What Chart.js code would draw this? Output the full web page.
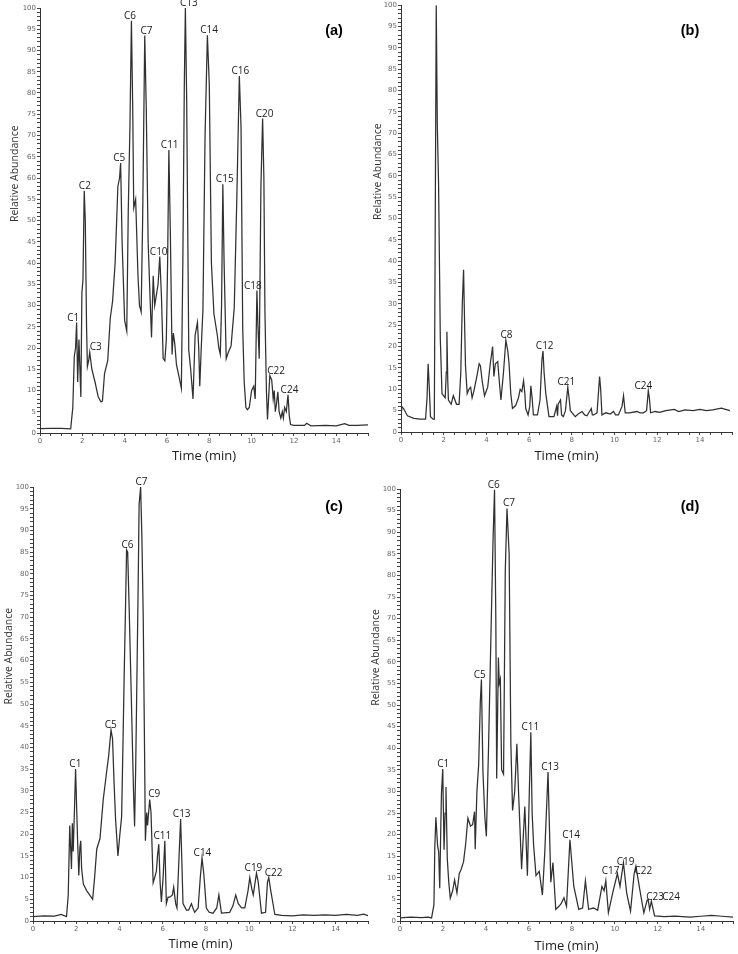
<!DOCTYPE html>
<html><head><meta charset="utf-8">
<script src="https://cdn.jsdelivr.net/npm/chart.js@4.4.0/dist/chart.umd.min.js"></script>
<style>
html,body{margin:0;padding:0;background:#fff;}
body{width:738px;height:954px;position:relative;overflow:hidden;}
canvas{position:absolute;}
</style></head><body>
<canvas id="pa" width="361" height="470" style="left:8px;top:0px"></canvas>
<canvas id="pb" width="366" height="470" style="left:369px;top:0px"></canvas>
<canvas id="pc" width="368" height="479" style="left:1px;top:475px"></canvas>
<canvas id="pd" width="370" height="479" style="left:368px;top:475px"></canvas>
<script>
// ---------- Panel (a) ----------
const timeA = [0, 0.5, 1.0, 1.45, 1.55, 1.62, 1.68, 1.73, 1.78, 1.84,
  1.93, 1.98, 2.03, 2.09, 2.14, 2.20, 2.24, 2.30, 2.35, 2.45,
  2.60, 2.75, 2.88, 2.95, 3.05, 3.20, 3.32, 3.43, 3.55, 3.68,
  3.76, 3.81, 3.88, 4.00, 4.10, 4.17, 4.25, 4.32, 4.38, 4.43,
  4.52, 4.63, 4.70, 4.78, 4.85, 4.95, 5.02, 5.11, 5.20, 5.27,
  5.35, 5.42, 5.50, 5.58, 5.66, 5.74, 5.82, 5.90, 5.97, 6.03,
  6.09, 6.16, 6.24, 6.30, 6.37, 6.45, 6.56, 6.68, 6.75, 6.82,
  6.87, 6.93, 7.03, 7.12, 7.23, 7.33, 7.44, 7.50, 7.55, 7.62,
  7.70, 7.80, 7.91, 8.00, 8.10, 8.22, 8.38, 8.45, 8.52, 8.58,
  8.64, 8.70, 8.80, 8.90, 9.03, 9.18, 9.30, 9.42, 9.50, 9.58,
  9.65, 9.73, 9.80, 9.89, 10.00, 10.10, 10.17, 10.25, 10.30, 10.36,
  10.44, 10.52, 10.58, 10.63, 10.70, 10.75, 10.86, 10.95, 11.02, 11.07,
  11.12, 11.18, 11.24, 11.30, 11.38, 11.45, 11.50, 11.56, 11.64, 11.72,
  11.78, 11.84, 12.00, 12.50, 12.60, 12.80, 13.50, 14.00, 14.40, 14.60,
  15.00, 15.50];
const abundA = [1.0, 1.1, 1.1, 1.0, 6, 18, 20, 26, 12, 22,
  8.5, 33, 36, 57, 50, 25, 15.6, 17, 19, 15,
  12, 8.5, 7.3, 7.5, 14, 17, 27, 31, 40, 58,
  60, 63.5, 45, 26.5, 24, 52, 72, 97, 77, 53,
  55, 37, 30, 28.5, 50, 93.5, 77, 45, 32, 22.5,
  37, 30, 32.5, 35, 41.5, 32, 17.5, 17, 22, 40,
  66.6, 47, 18.5, 23.5, 21, 16, 13.5, 10.5, 40, 82,
  100, 79, 19.5, 15, 8, 23, 26, 20, 11, 20,
  29, 70, 93.6, 82, 40, 28, 23, 20, 18.5, 30,
  58.5, 40, 17.5, 19, 20.5, 29.5, 55, 84, 72, 24.5,
  12, 6, 5.5, 6, 10, 11, 8, 33.5, 25, 17.5,
  58, 74, 60, 28.5, 10, 3.2, 13.5, 12.5, 8, 10,
  5, 7, 9.7, 5, 3.5, 5, 3.5, 6, 5, 9,
  4, 2, 1.8, 1.8, 2.3, 1.7, 1.8, 1.7, 2.2, 1.8,
  1.8, 1.9];
const peakNamesA   = ['C1','C2','C3','C5','C6','C7','C10','C11','C13','C14','C15','C16','C18','C20','C22','C24'];
const peakTimesA   = [1.57, 2.12, 2.63, 3.74, 4.25, 5.03, 5.61, 6.13, 7.04, 7.99, 8.73, 9.47, 10.06, 10.61, 11.16, 11.79];
const peakHeightsA = [26, 57, 19, 63.5, 97, 93.5, 41.5, 66.6, 100, 93.6, 58.5, 84, 33.5, 74, 13.5, 9];

// ---------- Panel (b) ----------
const timeB = [0, 0.03, 0.12, 0.30, 0.6, 0.9, 1.15, 1.22, 1.27, 1.32,
  1.38, 1.50, 1.56, 1.60, 1.65, 1.70, 1.76, 1.84, 1.92, 1.99,
  2.07, 2.12, 2.15, 2.19, 2.22, 2.35, 2.45, 2.60, 2.72, 2.80,
  2.87, 2.93, 2.98, 3.02, 3.10, 3.18, 3.26, 3.33, 3.41, 3.55,
  3.66, 3.72, 3.80, 3.91, 4.06, 4.18, 4.29, 4.35, 4.42, 4.53,
  4.60, 4.68, 4.80, 4.91, 5.00, 5.06, 5.14, 5.22, 5.37, 5.50,
  5.58, 5.66, 5.74, 5.80, 5.84, 5.95, 6.03, 6.08, 6.14, 6.20,
  6.39, 6.51, 6.60, 6.65, 6.70, 6.78, 6.93, 7.16, 7.29, 7.33,
  7.36, 7.47, 7.52, 7.60, 7.70, 7.81, 7.87, 7.93, 8.16, 8.30,
  8.48, 8.60, 8.71, 8.91, 8.96, 9.02, 9.18, 9.30, 9.35, 9.41,
  9.60, 9.80, 9.95, 10.05, 10.18, 10.35, 10.42, 10.50, 10.70, 11.04,
  11.20, 11.35, 11.50, 11.58, 11.63, 11.69, 11.90, 12.12, 12.40, 12.80,
  13.00, 13.30, 13.67, 14.00, 14.30, 14.60, 15.00, 15.40];
const abundB = [5, 6, 5.5, 3.8, 3.2, 3.0, 3.0, 8, 16, 11,
  3.6, 3, 3, 45, 100, 72, 58, 22, 9, 8.5,
  8, 14, 23.5, 12, 7.5, 6.5, 8.5, 6.5, 6.5, 14,
  30, 38, 25, 15.5, 9, 10, 10.5, 8, 9.5, 13,
  16, 15.5, 12, 8.5, 10.5, 16, 20, 13, 16, 16.5,
  12, 7.5, 14, 21.5, 19, 16, 9, 5.5, 6.2, 8,
  10, 9.5, 12, 9, 5.5, 4, 6, 10.8, 8, 4,
  4, 7.5, 17, 19, 14, 9, 3.6, 3.6, 6, 3.8,
  6.5, 7.5, 4, 3.6, 5, 10.5, 8, 5, 3.6, 4.2,
  4.8, 4, 3.8, 5.5, 4, 4, 4.5, 13, 10, 4,
  4.5, 4.2, 4.8, 4, 4, 6, 8.5, 4.5, 4.5, 4.8,
  4.5, 4.5, 5, 9.7, 8, 4.5, 4.8, 4.6, 5, 5.3,
  4.8, 5.2, 5, 5.3, 5, 5.2, 5.6, 5.0];
const peakNamesB   = ['C8','C12','C21','C24'];
const peakTimesB   = [4.94, 6.73, 7.74, 11.35];
const peakHeightsB = [21.5, 19, 10.5, 9.7];

// ---------- Panel (c) ----------
const timeC = [0, 0.5, 1.0, 1.3, 1.55, 1.63, 1.70, 1.74, 1.78, 1.82,
  1.86, 1.92, 1.97, 2.02, 2.06, 2.12, 2.17, 2.21, 2.25, 2.33,
  2.48, 2.62, 2.76, 2.85, 2.95, 3.10, 3.25, 3.41, 3.50, 3.61,
  3.68, 3.75, 3.82, 3.93, 4.02, 4.10, 4.16, 4.22, 4.28, 4.33,
  4.38, 4.45, 4.57, 4.65, 4.70, 4.75, 4.80, 4.86, 4.91, 4.98,
  5.04, 5.10, 5.16, 5.20, 5.26, 5.30, 5.40, 5.46, 5.56, 5.63,
  5.71, 5.76, 5.82, 5.88, 5.94, 6.02, 6.10, 6.17, 6.25, 6.33,
  6.45, 6.51, 6.60, 6.66, 6.75, 6.83, 6.88, 6.94, 7.10, 7.20,
  7.33, 7.40, 7.48, 7.64, 7.74, 7.82, 7.90, 8.02, 8.15, 8.33,
  8.50, 8.60, 8.72, 9.10, 9.25, 9.38, 9.50, 9.65, 9.80, 9.95,
  10.03, 10.12, 10.19, 10.34, 10.42, 10.57, 10.76, 10.85, 10.91, 11.00,
  11.19, 11.5, 12.0, 12.5, 13.0, 13.5, 14.0, 14.5, 15.0, 15.3, 15.5];
const abundC = [1.0, 1.2, 1.1, 1.5, 1.0, 6, 22, 17, 12, 22.5,
  16, 26, 35, 26, 19, 10.5, 17, 18.5, 12, 8.5,
  7, 6, 5, 10, 16.6, 19, 28, 34.5, 38, 44,
  42, 32, 23.5, 15, 20, 24, 40, 57, 72, 85.5,
  85, 72, 47, 30, 21.8, 35, 53, 75, 96, 100,
  88, 70, 40, 18.5, 25, 22, 28, 25, 8.8, 10,
  11.5, 15, 17.7, 9, 4.4, 10, 18.5, 4, 5.5, 5.5,
  6, 7.8, 4, 3, 14, 23.5, 15, 4, 2.5, 2.5,
  4, 3, 2, 3, 10, 14.5, 11, 3, 2, 1.8,
  3, 6, 1.8, 2, 3.5, 6, 4, 3, 3, 7,
  10, 7.5, 6, 11, 9, 1.8, 2, 9, 10, 7,
  1.5, 1.3, 1.2, 1.4, 1.3, 1.4, 1.3, 1.5, 1.3, 1.6, 1.2];
const peakNamesC   = ['C1','C5','C6','C7','C9','C11','C13','C14','C19','C22'];
const peakTimesC   = [1.96, 3.60, 4.37, 5.02, 5.61, 5.98, 6.88, 7.84, 10.2, 11.13];
const peakHeightsC = [35, 44, 85.5, 100, 28, 18.5, 23.5, 14.5, 11, 10];

// ---------- Panel (d) ----------
const timeD = [0, 0.5, 1.0, 1.3, 1.47, 1.58, 1.62, 1.67, 1.75, 1.80,
  1.85, 1.90, 1.93, 1.99, 2.05, 2.10, 2.14, 2.20, 2.27, 2.34,
  2.45, 2.54, 2.65, 2.76, 2.85, 2.96, 3.06, 3.16, 3.28, 3.38,
  3.47, 3.50, 3.58, 3.66, 3.74, 3.79, 3.86, 3.95, 4.02, 4.12,
  4.25, 4.33, 4.40, 4.46, 4.50, 4.58, 4.62, 4.67, 4.73, 4.82,
  4.90, 4.98, 5.08, 5.16, 5.24, 5.34, 5.44, 5.52, 5.66, 5.81,
  5.93, 6.02, 6.09, 6.15, 6.22, 6.33, 6.48, 6.63, 6.74, 6.89,
  7.02, 7.12, 7.25, 7.40, 7.50, 7.63, 7.75, 7.91, 8.09, 8.32,
  8.50, 8.63, 8.78, 9.01, 9.20, 9.40, 9.50, 9.58, 9.70, 9.90,
  10.12, 10.24, 10.40, 10.55, 10.73, 10.90, 10.98, 11.16, 11.35, 11.50,
  11.55, 11.62, 11.70, 11.85, 12.3, 12.8, 13.5, 14.0, 14.5, 15.0, 15.5];
const abundD = [0.7, 0.9, 0.8, 0.9, 0.7, 3.8, 17, 24, 17.4, 16,
  7.6, 22, 29.5, 35.2, 16.5, 25, 31, 14.5, 9, 5.3,
  7, 9.5, 6.5, 11, 12, 13.8, 18, 23.8, 22, 22.3,
  25.3, 16.6, 30, 36, 51, 55.9, 34.6, 24, 19.6, 40,
  70, 88, 99.8, 70, 33, 61, 55, 56, 35, 34,
  81, 95.5, 85, 41, 25.6, 30, 41, 29.6, 12, 26.5,
  10.5, 30, 43.7, 25, 17.5, 10.5, 11.5, 6, 16, 34.5,
  9, 13.5, 2.7, 3.4, 4, 5.4, 3.4, 18.8, 8, 2.7,
  3, 9.3, 2.7, 3, 2.5, 8, 7, 9.3, 1.9, 6.5,
  11, 8, 13.5, 6.5, 2.3, 11, 12.7, 7.3, 1.9, 4.8,
  5, 2.7, 4.6, 1.2, 1.0, 1.1, 0.9, 1.1, 1.3, 1.1, 0.9];
const peakNamesD   = ['C1','C5','C6','C7','C11','C13','C14','C17','C19','C22','C23','C24'];
const peakTimesD   = [2.01, 3.71, 4.36, 5.07, 6.07, 6.99, 7.96, 9.80, 10.50, 11.33, 11.87, 12.62];
const peakHeightsD = [35.2, 55.9, 99.8, 95.5, 43.7, 34.5, 18.8, 10.5, 12.6, 10.5, 4.5, 4.5];

// ---------- shared axis text ----------
const xTickLabels = [0, 2, 4, 6, 8, 10, 12, 14];
const yTickLabels = [0, 5, 10, 15, 20, 25, 30, 35, 40, 45, 50, 55, 60, 65, 70, 75, 80, 85, 90, 95, 100];
const panelLetters = ['(a)', '(b)', '(c)', '(d)'];
const xTitle = 'Time (min)';
const yTitle = 'Relative Abundance';

const annot = {
  id: 'annot',
  afterDraw(chart, args, o) {
    const ctx = chart.ctx, ca = chart.chartArea, xs = chart.scales.x, ys = chart.scales.y;
    ctx.save();
    ctx.fillStyle = '#1a1a1a';
    ctx.font = '10px "Open Sans"';
    ctx.textAlign = 'center';
    ctx.textBaseline = 'alphabetic';
    o.names.forEach((n, i) => {
      ctx.fillText(n, xs.getPixelForValue(o.times[i]), ys.getPixelForValue(o.heights[i]) - 2);
    });
    ctx.font = 'bold 14.5px "Liberation Sans", Arial, sans-serif';
    ctx.fillStyle = '#000';
    ctx.textBaseline = 'middle';
    ctx.fillText(o.letter, ca.right - o.letterDx, ca.top + o.letterDy);
    ctx.translate(o.yTitleX, ca.top + 0.39 * (ca.bottom - ca.top));
    ctx.rotate(-Math.PI / 2);
    ctx.font = '10.5px "Open Sans"';
    ctx.fillStyle = '#333';
    ctx.fillText(yTitle, 0, 0);
    ctx.restore();
  }
};

function near(list, v) { return list.some(t => Math.abs(t - v) < 1e-6); }

function makePanel(id, times, values, names, ptimes, pheights, letter, cfg) {
  const data = times.map((t, i) => ({ x: t, y: values[i] }));
  new Chart(document.getElementById(id), {
    type: 'line',
    data: { datasets: [{ data, borderColor: '#303030', borderWidth: 1.25, pointRadius: 0, tension: 0, fill: false }] },
    options: {
      responsive: false, animation: false, maintainAspectRatio: false,
      layout: { padding: { top: cfg.padTop, right: cfg.padRight, left: 0, bottom: 0 } },
      plugins: {
        legend: { display: false }, tooltip: { enabled: false },
        annot: { names, times: ptimes, heights: pheights, letter, letterDx: cfg.letterDx, letterDy: cfg.letterDy, yTitleX: cfg.yTitleX }
      },
      scales: {
        x: {
          type: 'linear', min: 0, max: 15.5,
          ticks: { stepSize: 0.5, autoSkip: false, maxRotation: 0, padding: 1, color: '#666',
            font: { size: 7, family: 'DejaVu Sans' },
            callback: v => near(xTickLabels, v) ? String(Math.round(v)) : '' },
          grid: { drawOnChartArea: false, drawTicks: true, tickLength: 3, color: '#444' },
          border: { color: '#333', width: 1 },
          title: { display: true, text: xTitle, color: '#222', font: { size: 13, family: 'Open Sans' }, padding: { top: 0, bottom: cfg.xTitlePad } },
          afterFit: s => { s.height = cfg.xh; }
        },
        y: {
          type: 'linear', min: 0, max: 100,
          ticks: { stepSize: 1, autoSkip: false, padding: 1, color: '#666',
            font: { size: 7, family: 'DejaVu Sans' },
            callback: v => near(yTickLabels, v) ? String(v) : '' },
          grid: { drawOnChartArea: false, drawTicks: true, tickLength: 3, color: '#444' },
          border: { color: '#333', width: 1 },
          afterFit: s => { s.width = 32; }
        }
      }
    },
    plugins: [annot]
  });
}

makePanel('pa', timeA, abundA, peakNamesA, peakTimesA, peakHeightsA, panelLetters[0],
  { padTop: 8, padRight: 0, xh: 37, xTitlePad: 6, letterDx: 34, letterDy: 23, yTitleX: 7 });
makePanel('pb', timeB, abundB, peakNamesB, peakTimesB, peakHeightsB, panelLetters[1],
  { padTop: 5, padRight: 3, xh: 38, xTitlePad: 6, letterDx: 42, letterDy: 26, yTitleX: 9 });
makePanel('pc', timeC, abundC, peakNamesC, peakTimesC, peakHeightsC, panelLetters[2],
  { padTop: 12, padRight: 1, xh: 33, xTitlePad: 2, letterDx: 34, letterDy: 20, yTitleX: 8 });
makePanel('pd', timeD, abundD, peakNamesD, peakTimesD, peakHeightsD, panelLetters[3],
  { padTop: 14, padRight: 5, xh: 33, xTitlePad: 0, letterDx: 43, letterDy: 18, yTitleX: 8 });
</script>
</body></html>
